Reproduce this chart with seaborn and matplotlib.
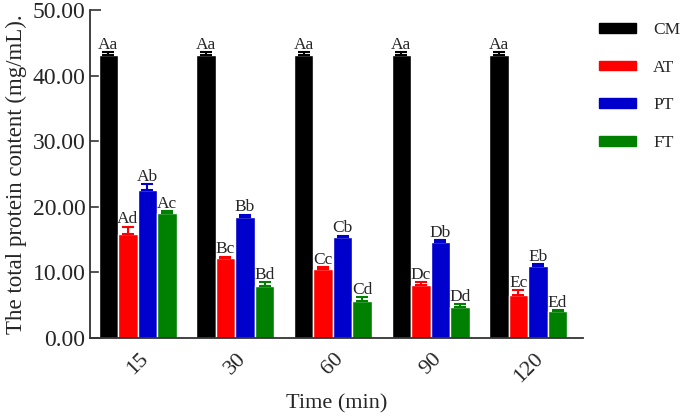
import numpy as np
import pandas as pd
import matplotlib
matplotlib.use("Agg")
import matplotlib.pyplot as plt
import seaborn as sns

# values
times = ["15", "30", "60", "90", "120"]
groups = ["CM", "AT", "PT", "FT"]
cm = [43.1, 43.1, 43.1, 43.1, 43.1]
at = [15.9, 12.2, 10.5, 8.1, 6.6]
pt = [22.6, 18.5, 15.4, 14.6, 11.0]
ft = [19.0, 7.9, 5.6, 4.7, 4.1]
cm_err = [0.5, 0.5, 0.5, 0.5, 0.5]
at_err = [1.1, 0.2, 0.3, 0.4, 0.7]
pt_err = [0.9, 0.3, 0.2, 0.3, 0.3]
ft_err = [0.3, 0.6, 0.6, 0.5, 0.2]
cm_lab = ["Aa", "Aa", "Aa", "Aa", "Aa"]
at_lab = ["Ad", "Bc", "Cc", "Dc", "Ec"]
pt_lab = ["Ab", "Bb", "Cb", "Db", "Eb"]
ft_lab = ["Ac", "Bd", "Cd", "Dd", "Ed"]
colors = ["#000000", "#ff0000", "#0000cc", "#008000"]

sns.set_style("white")
plt.rcParams['font.family'] = ['Liberation Serif', 'DejaVu Serif']

rows = []
for g, vals in zip(groups, [cm, at, pt, ft]):
    for t, v in zip(times, vals):
        rows.append({"Time": t, "Group": g, "Value": v})
df = pd.DataFrame(rows)

fig = plt.figure(figsize=(6.85, 4.2), dpi=100)
ax = fig.add_axes([0.131, 0.195, 0.72, 0.781])
sns.barplot(data=df, x="Time", y="Value", hue="Group", order=times,
            hue_order=groups, palette=colors, errorbar=None, width=0.8,
            saturation=1, ax=ax, legend=False)

errs = [cm_err, at_err, pt_err, ft_err]
labs = [cm_lab, at_lab, pt_lab, ft_lab]
bars = [p for p in ax.patches if p.get_height() > 0]
for k, g in enumerate(groups):
    for i in range(len(times)):
        p = bars[k * len(times) + i]
        xc = p.get_x() + p.get_width() / 2
        h = p.get_height()
        e = errs[k][i]
        ax.errorbar([xc], [h], yerr=[[0], [e]], fmt="none", ecolor=colors[k],
                    elinewidth=1.5, capsize=4, capthick=1.5)
        ax.text(xc, h + e - 0.1, labs[k][i], ha="center", va="bottom",
                fontsize=12.5)

ax.set_ylim(0, 50)
ax.set_xlim(-0.49, 4.56)
ax.set_yticks(np.arange(0, 51, 10))
ax.set_yticklabels([f"{v:.2f}" for v in np.arange(0, 51, 10)], fontsize=17)
ax.set_xticks(range(len(times)))
ax.set_xticklabels(times, rotation=45, fontsize=16)
ax.tick_params(axis="y", direction="in", length=8, width=1.2, left=True,
               color="#333333", pad=3)
ax.tick_params(axis="x", length=0, pad=8)
ax.set_xlabel("Time (min)", fontsize=16, labelpad=6)
ax.set_ylabel("The total protein content (mg/mL).", fontsize=16.5, labelpad=4)
sns.despine(ax=ax)
for s in ["left", "bottom"]:
    ax.spines[s].set_linewidth(1.3)
    ax.spines[s].set_color("#333333")

handles = [plt.Rectangle((0, 0), 1, 1, color=c) for c in colors]
fig.legend(handles, groups, loc="upper left", bbox_to_anchor=(0.852, 0.985),
           frameon=False, fontsize=12.5, handlelength=2.1, handleheight=0.5,
           labelspacing=1.25, handletextpad=1.0)

fig.savefig("out.png", dpi=100)
